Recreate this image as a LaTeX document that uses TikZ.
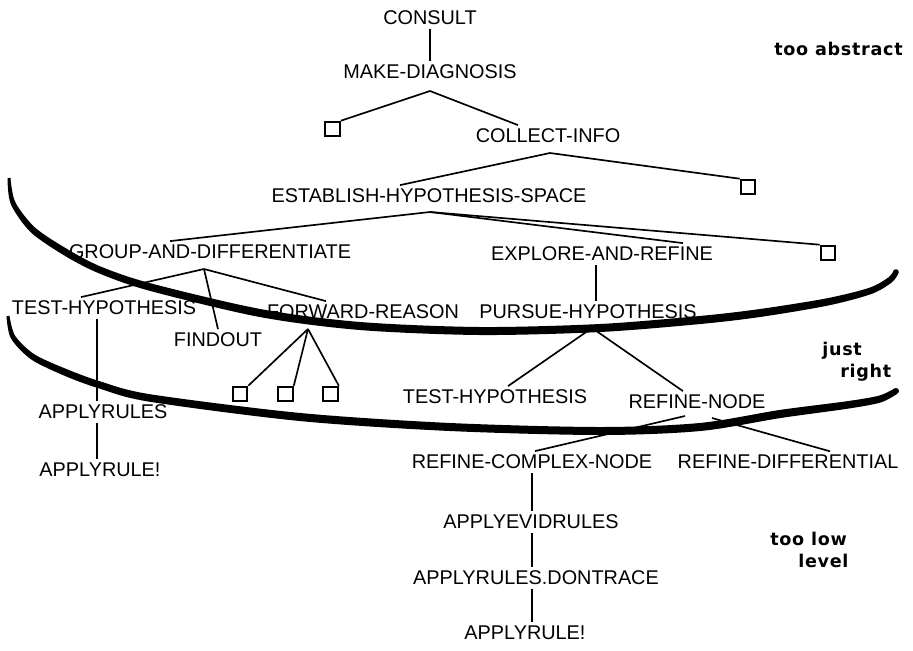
\documentclass[tikz,border=0pt]{standalone}
\usepackage{fontspec}
\setmainfont{Liberation Sans}
\newfontfamily\tagfont[LetterSpace=4]{DejaVu Sans}
\usetikzlibrary{calc}

\begin{document}
\begin{tikzpicture}[x=0.02cm,y=-0.02cm,font=\fontsize{11.3}{13}\selectfont,
  goal/.style={inner sep=2pt},
  leaf/.style={draw,line width=1.2pt,inner sep=0pt,minimum size=0.29cm},
  link/.style={line width=0.95pt},
  tag/.style={font=\tagfont\bfseries\fontsize{10}{12}\selectfont,inner sep=0pt}]
\useasboundingbox (0,0) rectangle (913,650);

% goals of the tree
\node[goal] (consult) at (430,18) {CONSULT};
\node[goal] (makediag) at (430,72) {MAKE-DIAGNOSIS};
\node[leaf] (boxa) at (332.5,129) {};
\node[goal] (collect) at (548,136) {COLLECT-INFO};
\node[goal] (establish) at (429,196) {ESTABLISH-HYPOTHESIS-SPACE};
\node[leaf] (boxb) at (748,187) {};
\node[goal] (group) at (210,252) {GROUP-AND-DIFFERENTIATE};
\node[goal] (explore) at (602,254) {EXPLORE-AND-REFINE};
\node[leaf] (boxc) at (828,253) {};
\node[goal] (testhypa) at (104,308) {TEST-HYPOTHESIS};
\node[goal] (findout) at (218,340) {FINDOUT};
\node[goal] (forward) at (363,312) {FORWARD-REASON};
\node[goal] (pursue) at (588,312) {PURSUE-HYPOTHESIS};
\foreach \x/\n in {240/d,285.5/e,330.5/f}{%
\node[leaf] (box\n) at (\x,394) {};
}
\node[goal] (testhypb) at (495,397) {TEST-HYPOTHESIS};
\node[goal] (refine) at (697,402) {REFINE-NODE};
\node[goal] (applyrulesa) at (103,412) {APPLYRULES};
\node[goal] (applyrulea) at (100,470) {APPLYRULE!};
\node[goal] (rcomplex) at (532,462) {REFINE-COMPLEX-NODE};
\node[goal] (rdiff) at (788,462) {REFINE-DIFFERENTIAL};
\node[goal] (applyevid) at (531,522) {APPLYEVIDRULES};
\node[goal] (dontrace) at (536,578) {APPLYRULES.DONTRACE};
\node[goal] (applyruleb) at (525,633) {APPLYRULE!};

% forks
\coordinate (mdfork) at (430,91);
\coordinate (cifork) at (550,153);
\coordinate (ehfork) at (430,212);
\coordinate (gdfork) at (204,269);
\coordinate (frfork) at (308,329);
\coordinate (phfork) at (592,328);
\coordinate (rnforka) at (685,416);
\coordinate (rnforkb) at (712,418);
\coordinate (leftx) at (97,0);

\draw[link] (consult) -- (makediag);
\draw[link] (boxa.north east) -- (mdfork) -- ($(collect.north)+(-30,0)$);
\draw[link] ($(establish.north)+(-29,0)$) -- (cifork) -- (boxb.north west);
\draw[link] ($(group.north)+(-40,0)$) -- (ehfork) -- ($(explore.north)+(81,0)$);
\draw[link] (ehfork) -- (boxc.north west);
\draw[link] ($(testhypa.north)+(-23,0)$) -- (gdfork) -- ($(forward.north)+(-37,0)$);
\draw[link] (gdfork) -- (findout.north);
\foreach \n in {d,e,f}{%
\draw[link] (frfork) -- (box\n.north east);
}
\draw[link] ($(explore.south)+(-6,0)$) -- ($(pursue.north)+(8,0)$);
\draw[link] ($(testhypb.north)+(13,0)$) -- (phfork) -- ($(refine.north)+(-14,0)$);
\draw[link] (rnforka) -- ($(rcomplex.north)+(3,0)$);
\draw[link] (rnforkb) -- ($(rdiff.north)+(42,0)$);
\foreach \a/\b in {testhypa/applyrulesa,applyrulesa/applyrulea}{%
\draw[link] (\a.south -| leftx) -- (\b.north -| leftx);
}
\foreach \a/\b in {rcomplex/applyevid,applyevid/dontrace,dontrace/applyruleb}{%
\draw[link] (\a.south -| rcomplex.south) -- (\b.north -| rcomplex.south);
}

% the two bands
\fill plot[smooth] coordinates {(10.5,177.9) (15.2,201.9) (35.2,227.7) (68.8,250) (101.3,266.8) (151,283.4) (260.8,309.1) (360.2,322) (480,327) (599.8,324) (699.6,316) (759.3,309.1) (826.3,298.4) (868.9,287.9) (888.3,277.5) (893.8,270.3)}
  -- plot[smooth] coordinates {(898.2,273.7) (891.7,282.5) (871.1,294.1) (827.7,305.6) (760.7,316.9) (700.4,324) (600.2,332) (480,335) (359.8,330) (259.2,316.9) (149,290.6) (98.7,273.2) (65.2,256) (30.8,232.3) (10.8,204.1) (7.5,178.1)} -- cycle;
\fill (896,272) circle (2.8);
\fill plot[smooth] coordinates {(9.5,315.8) (15.1,335.7) (34.7,354.5) (68.4,369.8) (101,381.6) (150.6,394.3) (300.4,413) (450.2,423) (600,427) (699.6,423) (779.4,410) (846.4,401.3) (879.1,395.6) (894.7,388.3)}
  -- plot[smooth] coordinates {(897.3,393.7) (880.9,402.4) (847.6,408.7) (780.6,418) (700.4,431) (600,435) (449.8,431) (299.6,421) (149.4,401.7) (99,388.4) (65.6,376.2) (31.3,359.5) (10.9,338.3) (6.5,316.2)} -- cycle;
\fill (896,391) circle (3);

% levels
\node[tag,anchor=base east] (tagabstract) at (903,55) {too abstract};
\node[tag,anchor=base west] (tagjust) at (822,355) {just};
\node[tag,anchor=base west] (tagright) at (840,377) {right};
\node[tag,anchor=base west] (taglow) at (770,545) {too low};
\node[tag,anchor=base west] (taglevel) at (798,567) {level};
\end{tikzpicture}
\end{document}
